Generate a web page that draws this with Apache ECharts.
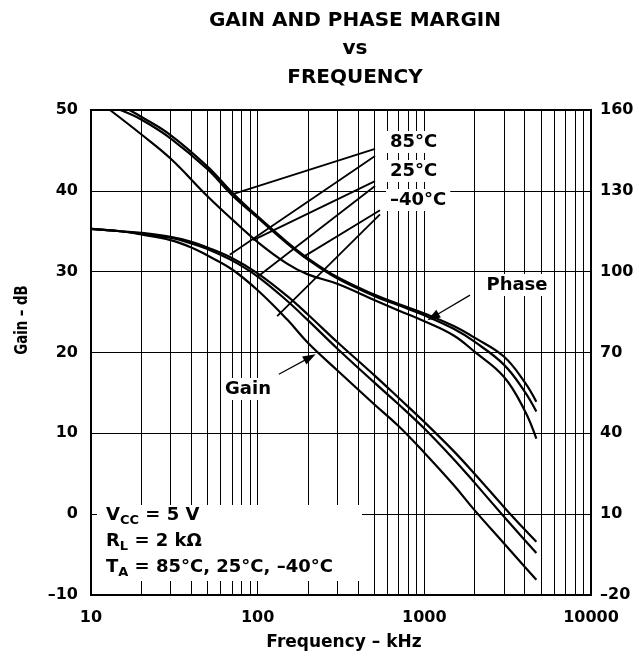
<!DOCTYPE html>
<html><head><meta charset="utf-8">
<script src="https://cdn.jsdelivr.net/npm/echarts@6/dist/echarts.min.js"></script>
<style>html,body{margin:0;padding:0;background:#fff}#c{width:639px;height:658px}</style>
</head><body><div id="c"></div>
<script>
// ---------- data ----------
const titleLines = ['GAIN AND PHASE MARGIN', 'vs', 'FREQUENCY'];
const xTicks = [10, 100, 1000, 10000];
const gridFreqs = [20,30,40,50,60,70,80,90,200,300,400,500,600,700,800,900,2000,3000,4000,5000,6000,7000,8000,9000];

const gainFreq = [10,15,20,30,40,50,70,100,150,200,300,500,700,1000,1500,2000,3000,4000,4700];
const gain85  = [35.3,35.0,34.8,34.3,33.7,33.0,31.7,29.8,27.0,24.7,21.3,17.2,14.4,11.4,7.8,5.0,0.9,-1.9,-3.4];
const gain25  = [35.3,35.0,34.7,34.2,33.5,32.8,31.4,29.4,26.4,24.0,20.5,16.3,13.6,10.6,6.8,3.9,-0.3,-3.2,-4.8];
const gainM40 = [35.3,35.0,34.6,33.9,33.0,32.0,30.3,27.7,24.1,21.2,17.8,13.6,10.9,7.6,3.6,0.5,-3.6,-6.5,-8.1];

const phaseFreq85  = [17,20,30,50,70,100,150,200,300,500,700,1000,1500,2000,3000,4000,4700];
const phase85      = [160,157.5,150.7,139,129.5,120.5,111,105,98,91.5,88,84.5,79.8,75.5,68.5,59,51.7];
const phaseFreqM40 = [15,20,30,50,70,100,150,200,300,500,700,1000,1500,2000,3000,4000,4700];
const phaseM40     = [160,156.5,149.5,138,128.5,120,110.5,104.5,97.5,91,87.5,83.8,78.8,74,65.5,55.5,48.1];
const phaseFreq25  = [13,20,30,50,70,100,150,200,300,500,700,1000,1500,2000,3000,4000,4700];
const phase25      = [160,151,142,128,119.5,111,103,99,95.5,89.5,85.6,81.6,76.3,70.3,61,48.5,38];

// annotation leader lines: [freqFrom, gainFrom, freqTo, gainTo] (gain-axis units)
const leaders = [
  [506,45.2, 71,39.6],
  [506,44.3, 68,32.1],
  [506,41.2, 94,33.9],
  [506,40.6, 99,29.3],
  [542,37.6, 187,31.8],
  [542,37.1, 131,24.5]
];
const phaseArrow = [1880,27.1, 1127,24.4];
const gainArrow  = [134,17.3, 206,19.4];

// ---------- chart ----------
const FF = '"DejaVu Sans", Verdana, sans-serif';
const dash = v => String(v).replace('-', '\u2013');
const zip = (xs, ys) => xs.map((x, i) => [x, ys[i]]);
const chart = echarts.init(document.getElementById('c'));

const curve = (data, yIdx) => ({
  type: 'line', data, yAxisIndex: yIdx, symbol: 'none', smooth: 0.4, z: 5,
  lineStyle: { color: '#000', width: 2.2 }, silent: true
});

const series = [
  { type: 'line', data: [], z: 1, silent: true,
    markLine: { silent: true, symbol: ['none','none'], label: { show: false }, animation: false,
      lineStyle: { color: '#000', width: 1, type: 'solid' },
      data: gridFreqs.map(f => ({ xAxis: f })) } },
  curve(zip(gainFreq, gain85), 0),
  curve(zip(gainFreq, gain25), 0),
  curve(zip(gainFreq, gainM40), 0),
  curve(zip(phaseFreq85, phase85), 1),
  curve(zip(phaseFreqM40, phaseM40), 1),
  curve(zip(phaseFreq25, phase25), 1)
];
leaders.forEach(l => series.push({
  type: 'line', data: [[l[0], l[1]], [l[2], l[3]]], symbol: 'none', z: 6, silent: true,
  lineStyle: { color: '#000', width: 1.8 }
}));
[phaseArrow, gainArrow].forEach(a => series.push({
  type: 'line', data: [], z: 6, silent: true,
  markLine: { silent: true, animation: false, symbol: ['none', 'triangle'], symbolSize: [9, 13],
    label: { show: false }, lineStyle: { color: '#000', width: 1.2, type: 'solid' },
    itemStyle: { color: '#000' },
    data: [[{ coord: [a[0], a[1]] }, { coord: [a[2], a[3]] }]] }
}));

const lbl = (text, x, y, size, align) => ({
  type: 'text', x, y, z: 100,
  style: { text, fontFamily: FF, fontWeight: 'bold', fontSize: size, fill: '#000',
    align: align || 'center', verticalAlign: 'middle', backgroundColor: '#fff', padding: [2, 4] }
});
const condRich = {
  m: { fontFamily: FF, fontWeight: 'bold', fontSize: 18, fill: '#000' },
  s: { fontFamily: FF, fontWeight: 'bold', fontSize: 13, fill: '#000', padding: [11, 0, 0, 0] }
};
const condText = (text, y) => ({
  type: 'text', x: 106, y, z: 101,
  style: { text, rich: condRich, align: 'left', verticalAlign: 'middle' }
});
const plain = (text, x, y, size, extra) => Object.assign({
  type: 'text', x, y,
  style: { text, fontFamily: FF, fontWeight: 'bold', fontSize: size, fill: '#000', align: 'center', verticalAlign: 'middle' }
}, extra || {});

chart.setOption({
  animation: false,
  backgroundColor: '#fff',
  grid: { left: 91, right: 48, top: 110, bottom: 63, show: true, borderColor: '#000', borderWidth: 2, backgroundColor: 'transparent' },
  xAxis: {
    type: 'log', logBase: 10, min: 10, max: 10000,
    axisLine: { show: true, onZero: false, lineStyle: { color: '#000', width: 2 } },
    axisTick: { show: false },
    axisLabel: { color: '#000', fontFamily: FF, fontWeight: 'bold', fontSize: 16, margin: 15,
      formatter: v => xTicks.includes(Math.round(v)) ? String(Math.round(v)) : '' },
    splitLine: { show: true, lineStyle: { color: '#000', width: 1 } },
    minorTick: { show: false }
  },
  yAxis: [
    { type: 'value', min: -10, max: 50, interval: 10, position: 'left',
      axisLine: { show: true, lineStyle: { color: '#000', width: 2 } }, axisTick: { show: false },
      axisLabel: { color: '#000', fontFamily: FF, fontWeight: 'bold', fontSize: 16, margin: 13, formatter: dash },
      splitLine: { show: true, lineStyle: { color: '#000', width: 1 } } },
    { type: 'value', min: -20, max: 160, interval: 30, position: 'right',
      axisLine: { show: true, lineStyle: { color: '#000', width: 2 } }, axisTick: { show: false },
      axisLabel: { color: '#000', fontFamily: FF, fontWeight: 'bold', fontSize: 16, margin: 9, formatter: dash },
      splitLine: { show: false } }
  ],
  series,
  graphic: [
    plain(titleLines[0], 355, 21, 20),
    plain(titleLines[1], 355, 49, 20),
    plain(titleLines[2], 355, 78, 20),
    plain('Frequency \u2013 kHz', 344, 643, 17),
    plain('Gain \u2013 dB', 23, 320, 17, { rotation: Math.PI / 2, scaleX: 0.78 }),
    lbl('85\u00b0C', 386, 142, 18, 'left'),
    lbl('25\u00b0C', 386, 171, 18, 'left'),
    lbl('\u201340\u00b0C', 386, 200, 18, 'left'),
    lbl('Phase', 517, 285, 18),
    lbl('Gain', 248, 389, 18),
    { type: 'rect', z: 100, shape: { x: 97, y: 505, width: 265, height: 76 }, style: { fill: '#fff' } },
    condText('{m|V}{s|CC}{m| = 5 V}', 515),
    condText('{m|R}{s|L}{m| = 2 k\u03a9}', 541),
    condText('{m|T}{s|A}{m| = 85\u00b0C, 25\u00b0C, \u201340\u00b0C}', 567)
  ]
});
</script></body></html>
